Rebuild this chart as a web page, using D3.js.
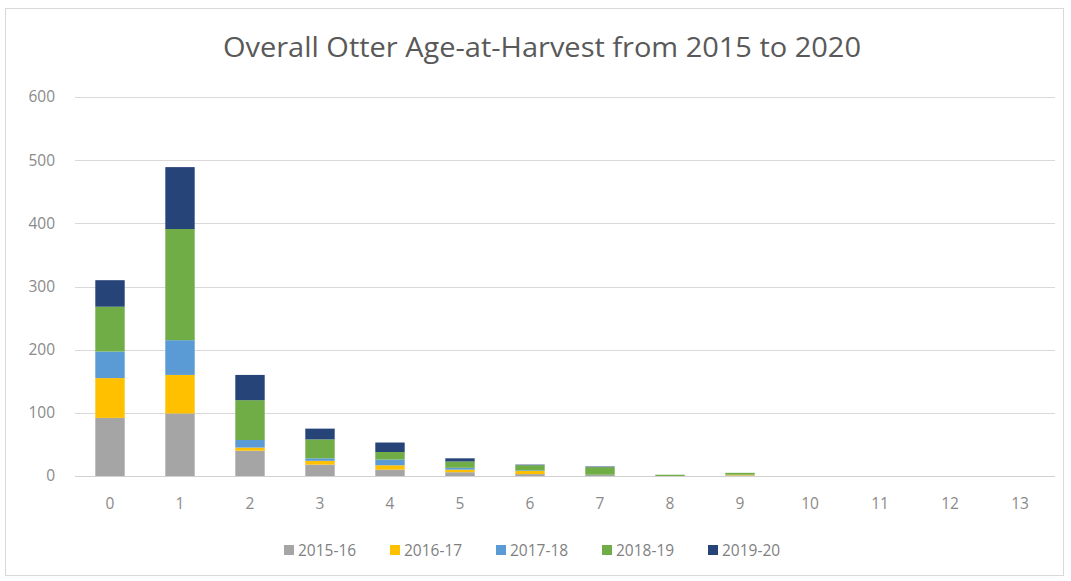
<!DOCTYPE html>
<html>
<head>
<meta charset="utf-8">
<script src="https://cdn.jsdelivr.net/npm/d3@7"></script>
<style>
  html, body { margin: 0; padding: 0; background: #fff; }
  svg { display: block; }
</style>
</head>
<body>
<svg id="chart" width="1071" height="581"></svg>
<script>
// Age classes (years) on the x axis
const ages = ["0","1","2","3","4","5","6","7","8","9","10","11","12","13"];

// Harvest season names, bottom of the stack first
const seasons = ["2015-16","2016-17","2017-18","2018-19","2019-20"];

// Otters harvested per age class, one array per season
const s2015_16 = [92, 99, 40, 18, 10, 6, 3, 2, 0, 1, 0, 0, 0, 0];
const s2016_17 = [63, 61,  5,  6,  7, 4, 5, 0, 0, 1, 0, 0, 0, 0];
const s2017_18 = [42, 55, 12,  4,  9, 3, 1, 0, 0, 0, 0, 0, 0, 0];
const s2018_19 = [71,176, 63, 30, 12,10, 8,12, 2, 3, 0, 0, 0, 0];
const s2019_20 = [42, 98, 40, 17, 15, 5, 1, 1, 0, 0, 0, 0, 0, 0];

const yTicks = [0, 100, 200, 300, 400, 500, 600];

const colors = ["#A5A5A5", "#FFC000", "#5B9BD5", "#70AD47", "#264478"];
const seriesValues = [s2015_16, s2016_17, s2017_18, s2018_19, s2019_20];

const rows = ages.map((a, i) => {
  const r = { age: a };
  seasons.forEach((s, k) => { r[s] = seriesValues[k][i]; });
  return r;
});

const svg = d3.select("#chart");
const W = 1071, H = 581;
const margin = { left: 75, right: 16, top: 97, bottom: 105 };
const plotW = W - margin.left - margin.right;
const plotH = H - margin.top - margin.bottom;
const font = "Open Sans, sans-serif";

// Chart frame
svg.append("rect")
  .attr("x", 5.5).attr("y", 8.5)
  .attr("width", 1058).attr("height", 567)
  .attr("fill", "#fff").attr("stroke", "#d9d9d9").attr("stroke-width", 1);

const x = d3.scaleBand().domain(ages).range([margin.left, margin.left + plotW]).paddingInner(0.58).paddingOuter(0.29);
const y = d3.scaleLinear().domain([0, 600]).range([margin.top + plotH, margin.top]);

// Horizontal gridlines
svg.append("g").selectAll("line").data(yTicks).join("line")
  .attr("x1", margin.left).attr("x2", margin.left + plotW)
  .attr("y1", d => Math.round(y(d)) + 0.5).attr("y2", d => Math.round(y(d)) + 0.5)
  .attr("stroke", "#d9d9d9").attr("stroke-width", 1);

// Y axis labels
const yAxis = d3.axisLeft(y).tickValues(yTicks).tickSize(0).tickPadding(0);
svg.append("g")
  .attr("transform", `translate(${margin.left - 20},0)`)
  .call(yAxis)
  .call(g => g.select(".domain").remove())
  .selectAll("text")
  .attr("font-family", font)
  .attr("font-size", 15.5)
  .attr("fill", "#8a8a8a");

// Stacked bars
const stack = d3.stack().keys(seasons);
const layers = stack(rows);

svg.append("g").selectAll("g").data(layers).join("g")
  .attr("fill", (d, i) => colors[i])
  .selectAll("rect").data(d => d).join("rect")
  .attr("x", d => x(d.data.age))
  .attr("width", x.bandwidth())
  .attr("y", d => y(d[1]))
  .attr("height", d => y(d[0]) - y(d[1]));

// Baseline
svg.append("line")
  .attr("x1", margin.left).attr("x2", margin.left + plotW)
  .attr("y1", Math.round(y(0)) + 0.5).attr("y2", Math.round(y(0)) + 0.5)
  .attr("stroke", "#d0d0d0");

// X axis labels
const xAxis = d3.axisBottom(x).tickSize(0).tickPadding(0);
svg.append("g")
  .attr("transform", `translate(0,${y(0) + 22})`)
  .call(xAxis)
  .call(g => g.select(".domain").remove())
  .selectAll("text")
  .attr("font-family", font)
  .attr("font-size", 15.5)
  .attr("fill", "#8a8a8a");

// Title
svg.append("text")
  .attr("x", 542).attr("y", 57)
  .attr("text-anchor", "middle")
  .attr("font-family", font)
  .attr("font-size", 28)
  .attr("textLength", 638)
  .attr("lengthAdjust", "spacingAndGlyphs")
  .attr("fill", "#595959")
  .text("Overall Otter Age-at-Harvest from 2015 to 2020");

// Legend
const legend = svg.append("g").attr("transform", "translate(284,550)");
const item = legend.selectAll("g").data(seasons).join("g")
  .attr("transform", (d, i) => `translate(${i * 106},0)`);
item.append("rect")
  .attr("x", 0).attr("y", -5).attr("width", 10).attr("height", 10)
  .attr("fill", (d, i) => colors[i]);
item.append("text")
  .attr("x", 14).attr("y", 6)
  .attr("font-family", font)
  .attr("font-size", 15.5)
  .attr("fill", "#7f7f7f")
  .text(d => d);
</script>
</body>
</html>
